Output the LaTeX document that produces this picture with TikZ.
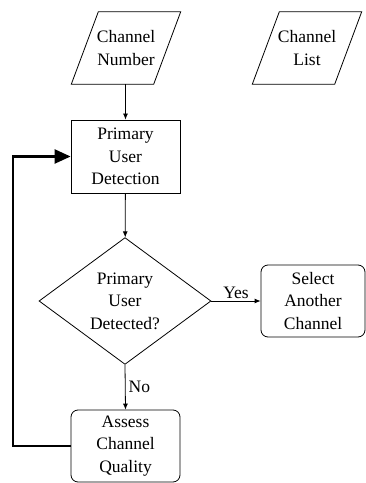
\documentclass[tikz,border=0pt]{standalone}
\usepackage{fontspec}
\setmainfont{Liberation Serif}
\usetikzlibrary{shapes.geometric,arrows.meta}
\begin{document}
\begin{tikzpicture}[x=1pt,y=1pt,
  every node/.style={font=\fontsize{17.5}{22.5}\selectfont, align=center, inner sep=0pt},
  iobox/.style={rectangle, minimum width=82pt, minimum height=72pt},
  iopath/.style={line width=0.8pt},
  procbox/.style={draw, rectangle, minimum width=109pt, minimum height=73pt, line width=0.8pt},
  roundbox/.style={draw, rectangle, rounded corners=7pt, minimum width=109pt, minimum height=72pt, line width=0.8pt},
  decbox/.style={draw, diamond, minimum width=172pt, minimum height=126pt, line width=0.8pt},
  flow/.style={line width=0.8pt, -{Latex[length=6pt,width=5pt]}},
  loopback/.style={line width=2.4pt, -{Triangle[length=16pt,width=14pt]}},
  lbl/.style={font=\fontsize{17.5}{20}\selectfont}]
\useasboundingbox (0,0) rectangle (366,483);

% inputs (parallelograms leaning right)
\node[iobox] (cn) at (126,435) {Channel\\Number};
\node[iobox] (cl) at (307,435) {Channel\\List};
\foreach \n in {cn,cl}
  \draw[iopath] ([xshift=-13.5pt]\n.south west) -- ([xshift=-13.5pt]\n.south east)
    -- ([xshift=13.5pt]\n.north east) -- ([xshift=13.5pt]\n.north west) -- cycle;

% main flow
\node[procbox] (pud) at (125.5,326.5) {Primary\\User\\Detection};
\node[decbox] (dec) at (125,182) {Primary\\User\\Detected?};
\node[roundbox, minimum width=104pt] (sel) at (313,182) {Select\\Another\\Channel};
\node[roundbox] (aq) at (125.5,37) {Assess\\Channel\\Quality};

% connectors
\draw[flow] (pud.north |- cn.south) -- (pud.north);
\draw[flow] (pud) -- (dec);
\draw[flow] (dec.east) -- node[lbl, above, yshift=2pt] (yes) {Yes} (sel.west);
\draw[flow] (dec.south) -- node[lbl, right, xshift=3pt] (no) {No} (aq.north);
\coordinate (corner) at (13,37);
\draw[loopback] (aq.west) -- (corner) |- (pud.west);
\end{tikzpicture}
\end{document}
